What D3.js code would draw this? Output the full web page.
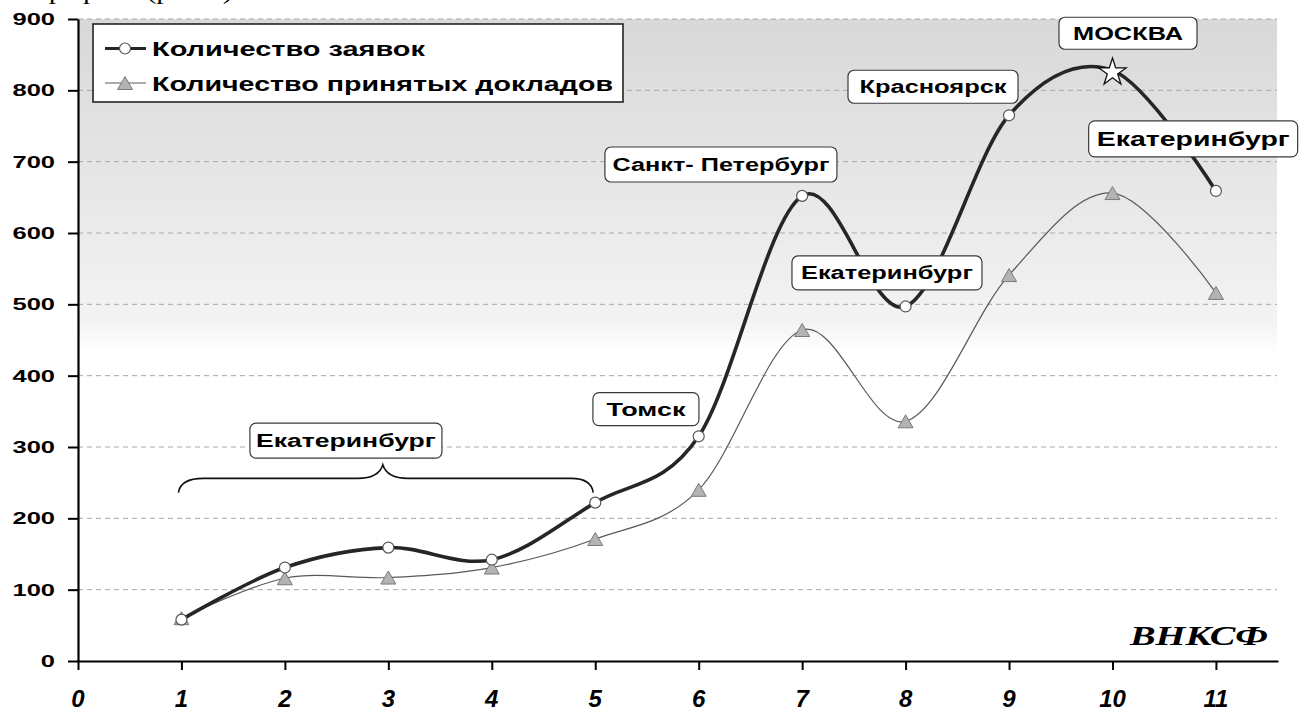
<!DOCTYPE html>
<html><head><meta charset="utf-8">
<script src="https://cdn.jsdelivr.net/npm/d3@7"></script>
<style>
body{margin:0;background:#fff;}
svg{display:block;}
text{font-family:"Liberation Sans",Arial,sans-serif;}
</style>
</head><body>
<svg id="chart" width="1300" height="711"></svg>
<script>
// ---------- data ----------
const xValues = [1,2,3,4,5,6,7,8,9,10,11];
const applications = [58,131,159,142,222,315,652,497,765,828,659];   // Количество заявок
const accepted     = [60,116,117,131,171,240,464,336,541,656,516];   // Количество принятых докладов
const seriesNames = ["Количество заявок","Количество принятых докладов"];
const yTicks = [0,100,200,300,400,500,600,700,800,900];
const xTicks = [0,1,2,3,4,5,6,7,8,9,10,11];
const cityLabels = ["Екатеринбург","Томск","Санкт- Петербург","Екатеринбург","Красноярск","МОСКВА","Екатеринбург"];
const cornerLabel = "ВНКСФ";
const headerFragment = "на графике (рис.3).";

// ---------- layout ----------
const svg = d3.select("#chart");
const L = 78, R = 1278, T = 19, B = 661;
const x = d3.scaleLinear().domain([0, 11.6]).range([L, R]);
const y = d3.scaleLinear().domain([0, 900]).range([B, T]);

// header fragment (cut off at top)
svg.append("text").attr("x", 0).attr("y", -1)
  .style("font-family", "'Liberation Serif','Times New Roman',serif")
  .style("font-size", "24px").attr("textLength", 240).attr("lengthAdjust", "spacingAndGlyphs")
  .text(headerFragment);

// plot background gradient
const defs = svg.append("defs");
const grad = defs.append("linearGradient").attr("id", "bg")
  .attr("gradientUnits", "userSpaceOnUse").attr("x1", 0).attr("x2", 0).attr("y1", T).attr("y2", B);
[[0, "#d8d8d8"], [0.47, "#f3f3f3"], [0.52, "#ffffff"], [1, "#ffffff"]]
  .forEach(([o, c]) => grad.append("stop").attr("offset", o).attr("stop-color", c));
svg.append("rect").attr("x", L).attr("y", T).attr("width", R - 1 - L).attr("height", B - T).attr("fill", "url(#bg)");

// gridlines
svg.append("g").selectAll("line").data(yTicks.filter(d => d > 0)).join("line")
  .attr("x1", L).attr("x2", R - 1).attr("y1", d => y(d)).attr("y2", d => y(d))
  .attr("stroke", "#a8a8a8").attr("stroke-width", 1).attr("stroke-dasharray", "5,4");

// axes
const yAxis = svg.append("g").attr("transform", `translate(${L},0)`)
  .call(d3.axisLeft(y).tickValues(yTicks).tickSize(10).tickSizeOuter(0).tickFormat(""));
const xAxis = svg.append("g").attr("transform", `translate(0,${B})`)
  .call(d3.axisBottom(x).tickValues(xTicks).tickSize(9).tickSizeOuter(0).tickFormat(""));
[yAxis, xAxis].forEach(a => {
  a.select(".domain").attr("stroke", "#000").attr("stroke-width", 2.2);
  a.selectAll(".tick line").attr("stroke", "#000").attr("stroke-width", 2);
});

// y labels (horizontally stretched bold)
svg.append("g").selectAll("text").data(yTicks).join("text")
  .attr("transform", d => `translate(55,${y(d) + 6}) scale(1.5,1)`)
  .attr("text-anchor", "end").style("font-size", "17px").style("font-weight", "bold")
  .text(d => d);

// x labels (bold italic)
svg.append("g").selectAll("text").data(xTicks).join("text")
  .attr("x", d => x(d)).attr("y", 707).attr("text-anchor", "middle")
  .style("font-size", "24px").style("font-weight", "bold").style("font-style", "italic")
  .text(d => d);

// lines
const line = d3.line().x(d => x(d[0])).y(d => y(d[1])).curve(d3.curveCatmullRom.alpha(0));
const s1 = xValues.map((v, i) => [v, applications[i]]);
const s2 = xValues.map((v, i) => [v, accepted[i]]);

svg.append("path").datum(s2).attr("d", line).attr("fill", "none")
  .attr("stroke", "#595959").attr("stroke-width", 1.2);
svg.append("path").datum(s1).attr("d", line).attr("fill", "none")
  .attr("stroke", "#262626").attr("stroke-width", 3.6);

// markers
const triPath = "M0,-6.5L7.5,6.5L-7.5,6.5Z";
svg.append("g").selectAll("path").data(s2).join("path")
  .attr("d", triPath).attr("transform", d => `translate(${x(d[0])},${y(d[1])})`)
  .attr("fill", "#b3b3b3").attr("stroke", "#7a7a7a").attr("stroke-width", 1);
svg.append("g").selectAll("circle").data(s1.filter(d => d[0] !== 10)).join("circle")
  .attr("cx", d => x(d[0])).attr("cy", d => y(d[1])).attr("r", 5.5)
  .attr("fill", "#fff").attr("stroke", "#555").attr("stroke-width", 1.2);
svg.append("g").selectAll("path").data(s1.filter(d => d[0] === 10)).join("path")
  .attr("d", d3.symbol(d3.symbolStar, 230)())
  .attr("transform", d => `translate(${x(d[0])},${y(d[1]) + 2})`)
  .attr("fill", "#fff").attr("stroke", "#111").attr("stroke-width", 1.3);

// brace over points 1..5
{
  const xa = x(1) - 3, xb = x(5) - 2, xm = (xa + xb) / 2 - 3;
  const ye = y(236), yh = y(256), yp = y(275);
  const p = `M${xa},${ye} Q${xa + 2},${yh} ${xa + 25},${yh} L${xm - 25},${yh} Q${xm - 4},${yh} ${xm},${yp} ` +
            `Q${xm + 4},${yh} ${xm + 25},${yh} L${xb - 22},${yh} Q${xb - 2},${yh} ${xb},${ye}`;
  svg.append("path").attr("d", p).attr("fill", "none").attr("stroke", "#111").attr("stroke-width", 1.6);
}

// annotation boxes: centre in data units, size in px
const boxes = [
  {cx: 2.59,  cy: 309, w: 192, h: 35, tl: 180, fs: 18},
  {cx: 5.49,  cy: 353, w: 106, h: 33, tl: 79,  fs: 18},
  {cx: 6.215, cy: 696, w: 232, h: 35, tl: 217, fs: 18},
  {cx: 7.82,  cy: 544, w: 190, h: 34, tl: 172, fs: 18},
  {cx: 8.265, cy: 805, w: 170, h: 33, tl: 147, fs: 18},
  {cx: 10.15, cy: 880, w: 138, h: 32, tl: 110, fs: 18},
  {cx: 10.78, cy: 732, w: 209, h: 36, tl: 193, fs: 21}
];
const ann = svg.append("g").selectAll("g").data(boxes).join("g")
  .attr("transform", d => `translate(${x(d.cx)},${y(d.cy)})`);
ann.append("rect").attr("x", d => -d.w / 2).attr("y", d => -d.h / 2)
  .attr("width", d => d.w).attr("height", d => d.h).attr("rx", 6)
  .attr("fill", "#fff").attr("stroke", "#3a3a3a").attr("stroke-width", 1.2);
ann.append("text").attr("text-anchor", "middle").attr("y", d => d.fs * 0.36)
  .attr("textLength", d => d.tl).attr("lengthAdjust", "spacingAndGlyphs")
  .style("font-size", d => d.fs + "px").style("font-weight", "bold")
  .text((d, i) => cityLabels[i]);

// corner label
svg.append("text").attr("x", 1268).attr("y", 645).attr("text-anchor", "end")
  .attr("textLength", 138).attr("lengthAdjust", "spacingAndGlyphs")
  .style("font-family", "'Liberation Serif','Times New Roman',serif")
  .style("font-size", "27px").style("font-weight", "bold").style("font-style", "italic")
  .text(cornerLabel);

// legend
const lg = svg.append("g");
lg.append("rect").attr("x", 93).attr("y", 24).attr("width", 530).attr("height", 78)
  .attr("fill", "#fff").attr("stroke", "#222").attr("stroke-width", 1.6);
const rows = [{cy: 48.5, base: 56, tl: 273}, {cy: 83, base: 90.5, tl: 461}];
rows.forEach((r, i) => {
  lg.append("line").attr("x1", 105).attr("x2", 146).attr("y1", r.cy).attr("y2", r.cy)
    .attr("stroke", i === 0 ? "#262626" : "#595959").attr("stroke-width", i === 0 ? 3 : 1.2);
  if (i === 0) {
    lg.append("circle").attr("cx", 125).attr("cy", r.cy).attr("r", 5.5)
      .attr("fill", "#fff").attr("stroke", "#555").attr("stroke-width", 1.2);
  } else {
    lg.append("path").attr("d", triPath).attr("transform", `translate(125,${r.cy})`)
      .attr("fill", "#b3b3b3").attr("stroke", "#7a7a7a");
  }
  lg.append("text").attr("x", 152).attr("y", r.base)
    .attr("textLength", r.tl).attr("lengthAdjust", "spacingAndGlyphs")
    .style("font-size", "21px").style("font-weight", "bold")
    .text(seriesNames[i]);
});
</script>
</body></html>
